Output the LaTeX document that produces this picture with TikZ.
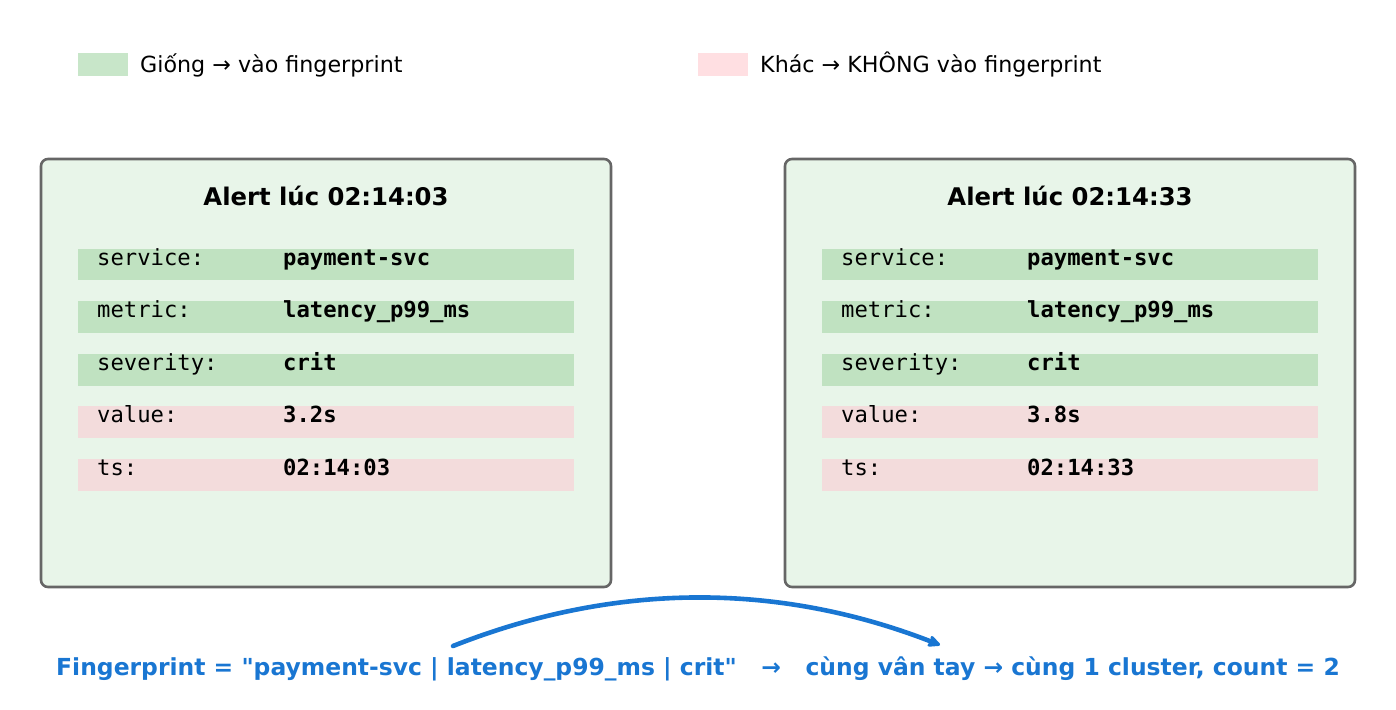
\documentclass[tikz,border=0pt]{standalone}
\usepackage{fontspec}
\setmainfont{DejaVu Sans}[Ligatures=TeXOff]
\setmonofont{DejaVu Sans Mono}
\usetikzlibrary{arrows.meta}
\definecolor{boxfill}{HTML}{E8F5E9}
\definecolor{boxdraw}{HTML}{666666}
\definecolor{leggreen}{HTML}{C8E6C9}
\definecolor{legpink}{HTML}{FFDFE2}
\definecolor{bandgreen}{HTML}{C0E2C1}
\definecolor{bandpink}{HTML}{F3DCDC}
\definecolor{fpblue}{HTML}{1976D2}
\tikzset{
  alertbox/.style={draw=boxdraw, line width=2.6pt, fill=boxfill, rounded corners=7pt},
  legtext/.style={anchor=base west, inner sep=0pt, font=\fontsize{22.2}{26}\selectfont},
  titletext/.style={anchor=base, inner sep=0pt, font=\fontsize{24.3}{28}\selectfont\bfseries},
  keytext/.style={anchor=base west, inner sep=0pt, font=\fontsize{22.2}{26}\selectfont\ttfamily},
  valtext/.style={anchor=base west, inner sep=0pt, font=\fontsize{22.2}{26}\selectfont\ttfamily\bfseries},
  fptext/.style={anchor=base, inner sep=0pt, text=fpblue, font=\fontsize{23.45}{27}\selectfont\bfseries},
  fparrow/.style={draw=fpblue, line width=4.6pt, line cap=round, -{Stealth[length=15pt,width=14pt,inset=3pt,round]}}
}
\begin{document}
\begin{tikzpicture}[x=1pt,y=-1pt]
\useasboundingbox (0,0) rectangle (1396,709);
% legend
\fill[leggreen] (78,53) rectangle (128,76);
\node[legtext] (lg) at (140,73) {Giống → vào fingerprint};
\fill[legpink] (698,53) rectangle (748,76);
\node[legtext] (lp) at (760,73) {Khác → KHÔNG vào fingerprint};
% boxes
\foreach \bx/\ttl/\val/\ts in {0/02:14:03/3.2s/02:14:03, 744/02:14:33/3.8s/02:14:33}{
  \begin{scope}[xshift=\bx pt]
    \draw[alertbox] (41,159) rectangle (611,587);
    \node[titletext] at (326,205) {Alert lúc \ttl};
    \fill[bandgreen] (78,249) rectangle (574,280);
    \fill[bandgreen] (78,301) rectangle (574,333);
    \fill[bandgreen] (78,354) rectangle (574,386);
    \fill[bandpink] (78,406) rectangle (574,438);
    \fill[bandpink] (78,459) rectangle (574,491);
    \node[keytext] at (97,265) {service:};
    \node[valtext] at (283,265) {payment-svc};
    \node[keytext] at (97,317) {metric:};
    \node[valtext] at (283,317) {latency\_p99\_ms};
    \node[keytext] at (97,370) {severity:};
    \node[valtext] at (283,370) {crit};
    \node[keytext] at (97,422) {value:};
    \node[valtext] at (283,422) {\val};
    \node[keytext] at (97,475) {ts:};
    \node[valtext] at (283,475) {\ts};
  \end{scope}
}
% fingerprint line
\node[fptext] (fp) at (698,675) {Fingerprint = "payment-svc | latency\_p99\_ms | crit"\ \ \ →\ \ \ cùng vân tay → cùng 1 cluster, count = 2};
\coordinate (a1) at (453,646);
\coordinate (a2) at (940,645);
\draw[fparrow] (a1) .. controls (615,582) and (778,582) .. (a2);
\end{tikzpicture}
\end{document}
